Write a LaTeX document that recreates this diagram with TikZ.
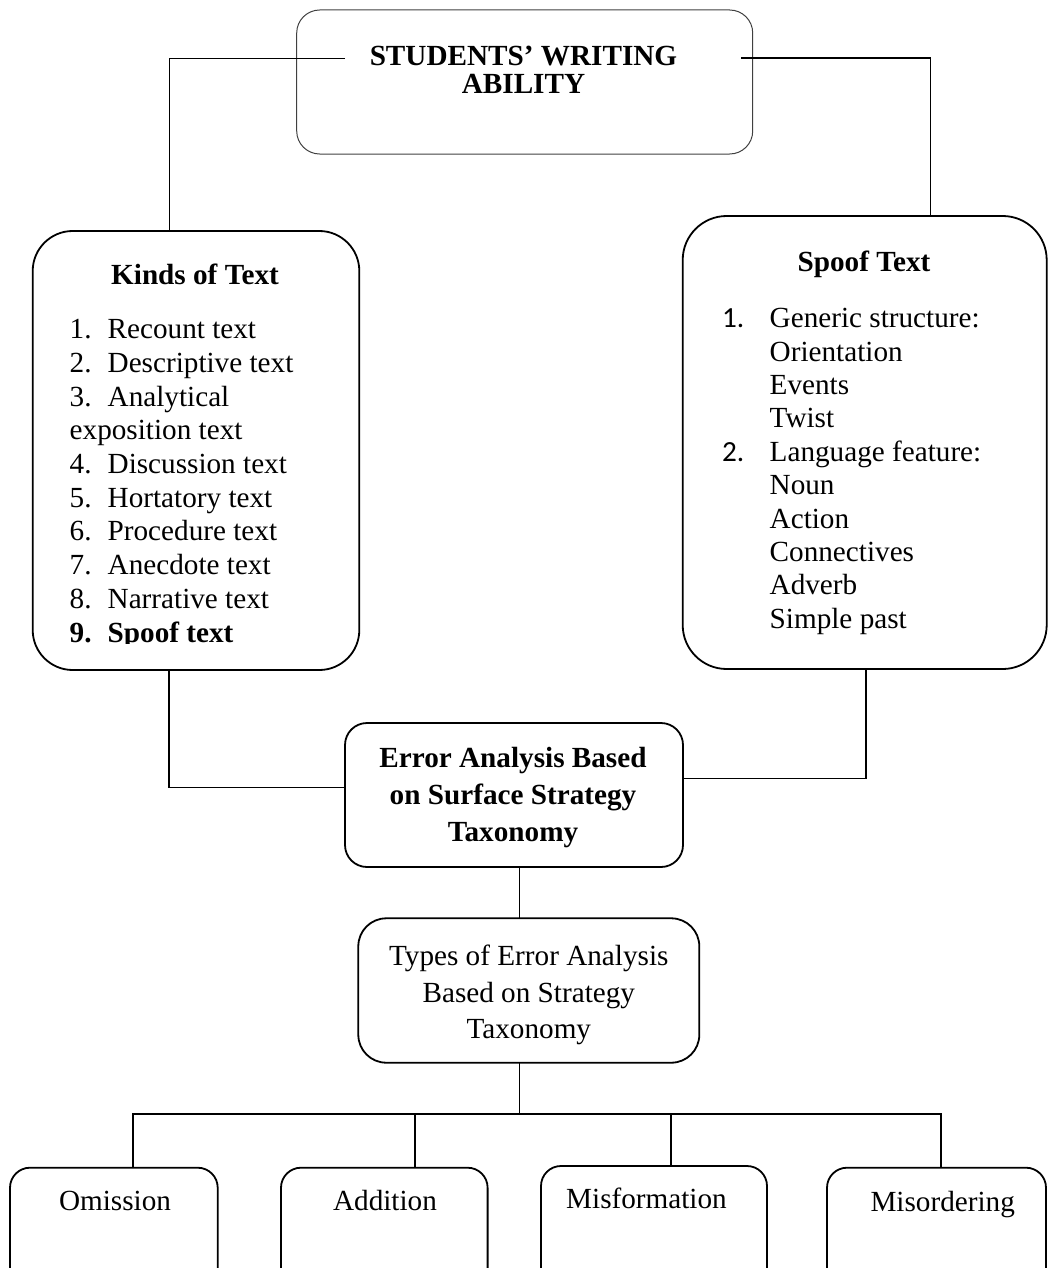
\documentclass[tikz,border=0pt]{standalone}
\usepackage{fontspec}
\setmainfont{Liberation Serif}
\setsansfont{Carlito}
\begin{document}
\begin{tikzpicture}[x=0.5pt,y=-0.5pt,
  box/.style={draw=black, line width=0.9pt, rounded corners=#1, inner sep=0pt},
  box/.default=10pt,
  txt/.style={inner sep=0pt, font=\fontsize{14.6}{17}\selectfont},
  conn/.style={line width=0.8pt, line cap=rect},
  thinconn/.style={line width=0.5pt}
]
\useasboundingbox (0,0) rectangle (1050,1268);
\clip (0,0) rectangle (1050,1268);

% ---------- boxes ----------
\node[box=11.5pt, draw=black!75, line width=0.5pt, minimum width=228pt, minimum height=72pt] (top) at (524.7,82) {};
\node[box=20pt, minimum width=163.3pt, minimum height=219.5pt] (kinds) at (196,450.5) {};
\node[box=22pt, minimum width=182pt, minimum height=226.5pt] (spoof) at (864.7,442.5) {};
\node[box=11pt, minimum width=169pt, minimum height=72pt] (error) at (514,795) {};
\node[box=14pt, minimum width=170.5pt, minimum height=72.2pt] (types) at (528.8,990.5) {};
\node[box=10pt, minimum width=103.85pt, minimum height=66.15pt] (omission) at (113.85,1233.85) {};
\node[box=10pt, minimum width=103.3pt, minimum height=66.15pt] (addition) at (384.3,1233.85) {};
\node[box=10pt, minimum width=113pt, minimum height=67pt] (misformation) at (654,1233) {};
\node[box=10pt, minimum width=109.5pt, minimum height=66.15pt] (misordering) at (936.5,1233.85) {};

% ---------- texts ----------
\node[txt, anchor=north, align=center, font=\fontsize{14.6}{14}\selectfont\bfseries] (toptext) at (523.5,41)
  {\rule{0pt}{12pt}STUDENTS’ WRITING\\ABILITY};

\node[txt, anchor=base, font=\fontsize{14.6}{17}\selectfont\bfseries] (kindstitle) at (195,284) {Kinds of Text};
\begin{scope}
\clip (0,0) rectangle (1050,643.5);
\node[txt, anchor=north west, align=left, font=\fontsize{14.6}{16.85}\selectfont] (kindslist) at (69.3,314.3)
  {\rule{0pt}{12pt}\makebox[19pt][l]{1.}Recount text\\
   \makebox[19pt][l]{2.}Descriptive text\\
   \makebox[19pt][l]{3.}Analytical\\
   exposition text\\
   \makebox[19pt][l]{4.}Discussion text\\
   \makebox[19pt][l]{5.}Hortatory text\\
   \makebox[19pt][l]{6.}Procedure text\\
   \makebox[19pt][l]{7.}Anecdote text\\
   \makebox[19pt][l]{8.}Narrative text\\
   \makebox[19pt][l]{\textbf{9.}}\textbf{Spoof text}};
\end{scope}

\node[txt, anchor=base, font=\fontsize{14.6}{17}\selectfont\bfseries] (spooftitle) at (864,271.7) {Spoof Text};
\node[txt, anchor=north west, align=left, font=\fontsize{14.6}{16.7}\selectfont] (spooflist) at (721.7,303.3)
  {\rule{0pt}{12pt}\makebox[23.8pt][l]{\sffamily 1.}Generic structure:\\
   \hspace*{23.8pt}Orientation\\
   \hspace*{23.8pt}Events\\
   \hspace*{23.8pt}Twist\\
   \makebox[23.8pt][l]{\sffamily 2.}Language feature:\\
   \hspace*{23.8pt}Noun\\
   \hspace*{23.8pt}Action\\
   \hspace*{23.8pt}Connectives\\
   \hspace*{23.8pt}Adverb\\
   \hspace*{23.8pt}Simple past};

\node[txt, anchor=north, align=center, font=\fontsize{14.6}{18.4}\selectfont\bfseries] (errortext) at (513,743)
  {\rule{0pt}{12pt}Error Analysis Based\\on Surface Strategy\\Taxonomy};
\node[txt, anchor=north, align=center, font=\fontsize{14.6}{18.35}\selectfont] (typestext) at (528.8,941)
  {\rule{0pt}{12pt}Types of Error Analysis\\Based on Strategy\\Taxonomy};

\node[txt, anchor=base] (omtext) at (115,1210.7) {Omission};
\node[txt, anchor=base] (adtext) at (385,1210.7) {Addition};
\node[txt, anchor=base] (mftext) at (646.5,1208) {Misformation};
\node[txt, anchor=base] (motext) at (942.7,1211.7) {Misordering};

% ---------- connectors ----------
\coordinate (tl) at (345,58.3);
\coordinate (tlc) at (169,58.3);
\draw[thinconn] (tl) -- (tlc) -- (tlc |- kinds.north);
\coordinate (tr) at (741.7,58.3);
\coordinate (trc) at (930.6,58.3);
\draw[conn] (tr) -- (trc) -- (trc |- spoof.north);

\coordinate (ke) at (169,787.3);
\draw[conn] (kinds.south -| ke) -- (ke) -- (ke -| error.west);
\coordinate (se) at (866,778.3);
\draw[conn] (spoof.south -| se) -- (se) -- (se -| error.east);

\coordinate (et) at (519.5,0);
\draw[conn] (error.south -| et) -- (types.north -| et);

\coordinate (bt) at (519.5,1114);
\draw[conn] (types.south -| bt) -- (bt);
\coordinate (b1) at (133,1114);
\coordinate (b2) at (415,1114);
\coordinate (b3) at (671,1114);
\coordinate (b4) at (941,1114);
\draw[line width=1pt] (b1) -- (b4);
\draw[conn] (b1) -- (b1 |- omission.north);
\draw[conn] (b2) -- (b2 |- addition.north);
\draw[conn] (b3) -- (b3 |- misformation.north);
\draw[conn] (b4) -- (b4 |- misordering.north);
\end{tikzpicture}
\end{document}
